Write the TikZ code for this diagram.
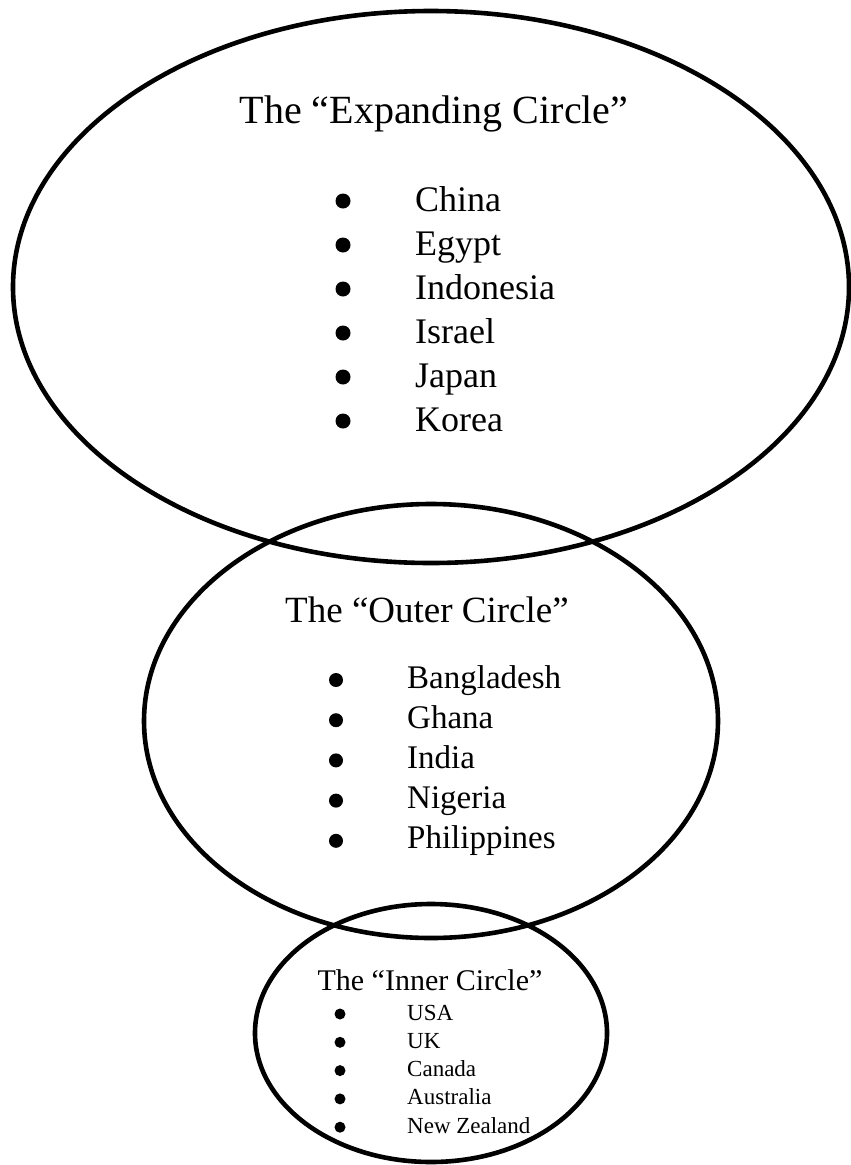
\documentclass[tikz,border=0pt]{standalone}
\usepackage{fontspec}
\setmainfont{Liberation Serif}
\begin{document}
\begin{tikzpicture}[x=1pt,y=-1pt,
  ring/.style={draw=black,line width=4.6pt},
  bigtitle/.style={anchor=base,inner sep=0pt,font=\fontsize{40}{48}\selectfont},
  midtitle/.style={anchor=base,inner sep=0pt,font=\fontsize{37}{44}\selectfont},
  smalltitle/.style={anchor=base,inner sep=0pt,font=\fontsize{30}{36}\selectfont},
  bigitem/.style={anchor=base west,inner sep=0pt,font=\fontsize{36}{43}\selectfont},
  miditem/.style={anchor=base west,inner sep=0pt,font=\fontsize{33}{40}\selectfont},
  smallitem/.style={anchor=base west,inner sep=0pt,font=\fontsize{23}{28}\selectfont},
  bigdot/.style={circle,fill=black,inner sep=0pt,minimum size=15pt},
  middot/.style={circle,fill=black,inner sep=0pt,minimum size=14pt},
  smalldot/.style={circle,fill=black,inner sep=0pt,minimum size=11pt}]
\useasboundingbox (0,0) rectangle (851,1165);
% ellipses
\draw[ring] (431,287) ellipse [x radius=418pt, y radius=276pt];
\draw[ring] (431,721) ellipse [x radius=287pt, y radius=217pt];
\draw[ring] (431,1033) ellipse [x radius=176pt, y radius=129pt];
% expanding circle
\node[bigtitle] (t1) at (434,123) {The “Expanding Circle”};
\foreach \n/\lab [count=\i] in {e1/China,e2/Egypt,e3/Indonesia,e4/Israel,e5/Japan,e6/Korea}{
  \node[bigitem] (\n) at (415,{211+44*(\i-1)}) {\lab};
  \node[bigdot] (\n b) at (343,{201+44*(\i-1)}) {};
}
% outer circle
\node[midtitle] (t2) at (427,622) {The “Outer Circle”};
\foreach \n/\lab [count=\i] in {o1/Bangladesh,o2/Ghana,o3/India,o4/Nigeria,o5/Philippines}{
  \node[miditem] (\n) at (407,{688+40.2*(\i-1)}) {\lab};
  \node[middot] (\n b) at (336,{680+40.2*(\i-1)}) {};
}
% inner circle
\node[smalltitle] (t3) at (430,990) {The “Inner Circle”};
\foreach \n/\lab [count=\i] in {i1/USA,i2/UK,i3/Canada,i4/Australia,i5/New Zealand}{
  \node[smallitem] (\n) at (407,{1020+28.3*(\i-1)}) {\lab};
  \node[smalldot] (\n b) at (340,{1014+28.3*(\i-1)}) {};
}
\end{tikzpicture}
\end{document}
